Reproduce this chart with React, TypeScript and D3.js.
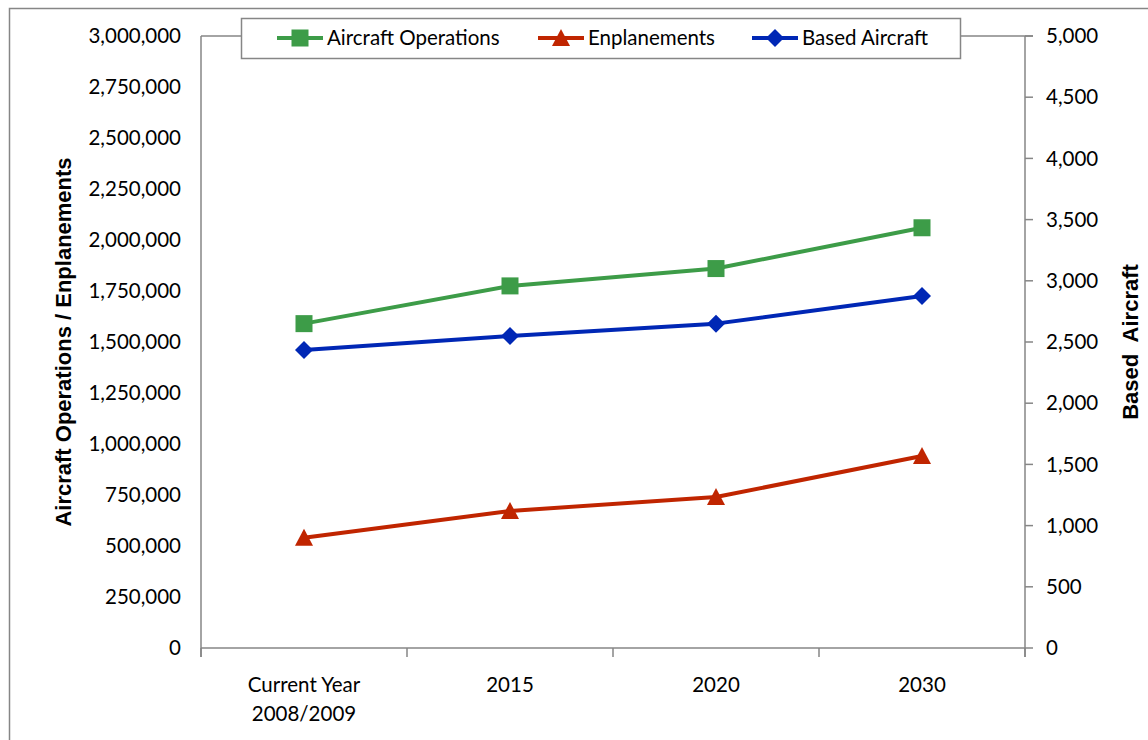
import React, { useEffect, useRef } from "react";
import * as d3 from "d3";

const categories = ["Current Year\n2008/2009", "2015", "2020", "2030"];
const aircraftOperations = [1590000, 1775000, 1860000, 2060000];
const enplanements = [540000, 672000, 740000, 941000];
const basedAircraft = [2435, 2550, 2650, 2875];
const leftTicks = d3.range(0, 3000001, 250000);
const rightTicks = d3.range(0, 5001, 500);

const W = 1148;
const H = 740;
const M = { left: 201, right: 1025, top: 36, bottom: 648 };
const GREEN = "#3d9c48";
const RED = "#c02500";
const BLUE = "#0027b5";
const AXIS = "#868686";
const TICKFONT = "Lato, 'Open Sans', sans-serif";
const BOLDFONT = "'Liberation Sans', Arial, sans-serif";
const FS = 20.5;

export default function App() {
  const ref = useRef<SVGSVGElement>(null);

  useEffect(() => {
    const svg = d3.select(ref.current);
    svg.selectAll("*").remove();

    const x = d3.scaleBand().domain(categories).range([M.left, M.right]).padding(0);
    const yL = d3.scaleLinear().domain([0, 3000000]).range([M.bottom, M.top]);
    const yR = d3.scaleLinear().domain([0, 5000]).range([M.bottom, M.top]);
    const cx = (c: string) => (x(c) as number) + x.bandwidth() / 2;

    svg.append("rect").attr("width", W).attr("height", H).attr("fill", "#fff");

    // outer border
    svg.append("rect").attr("x", 9.5).attr("y", 8.5).attr("width", W + 20).attr("height", H + 20)
      .attr("fill", "none").attr("stroke", AXIS).attr("stroke-width", 1.5);

    const g = svg.append("g");
    // plot frame lines
    g.append("line").attr("x1", M.left).attr("x2", M.right + 8).attr("y1", M.top).attr("y2", M.top)
      .attr("stroke", AXIS).attr("stroke-width", 1.5);
    g.append("line").attr("x1", M.left).attr("x2", M.left).attr("y1", M.top).attr("y2", M.bottom + 9)
      .attr("stroke", AXIS).attr("stroke-width", 1.5);
    g.append("line").attr("x1", M.right).attr("x2", M.right).attr("y1", M.top).attr("y2", M.bottom + 9)
      .attr("stroke", AXIS).attr("stroke-width", 1.5);
    g.append("line").attr("x1", M.left).attr("x2", M.right).attr("y1", M.bottom).attr("y2", M.bottom)
      .attr("stroke", AXIS).attr("stroke-width", 1.5);

    // x ticks at band edges
    const edges = categories.map((c) => x(c) as number).concat([M.right]);
    g.selectAll(".xt").data(edges).enter().append("line")
      .attr("x1", (d) => d).attr("x2", (d) => d).attr("y1", M.bottom).attr("y2", M.bottom + 9)
      .attr("stroke", AXIS).attr("stroke-width", 1.5);

    // right ticks
    g.selectAll(".rt").data(rightTicks).enter().append("line")
      .attr("x1", M.right).attr("x2", M.right + 8).attr("y1", (d) => yR(d)).attr("y2", (d) => yR(d))
      .attr("stroke", AXIS).attr("stroke-width", 1.5);

    const fmt = d3.format(",");
    g.selectAll(".lt").data(leftTicks).enter().append("text")
      .attr("x", 181).attr("y", (d) => yL(d)).attr("dy", "0.35em").attr("text-anchor", "end")
      .attr("font-family", TICKFONT).attr("font-size", FS).attr("fill", "#000").text((d) => fmt(d));
    g.selectAll(".rtl").data(rightTicks).enter().append("text")
      .attr("x", 1046).attr("y", (d) => yR(d)).attr("dy", "0.35em").attr("text-anchor", "start")
      .attr("font-family", TICKFONT).attr("font-size", FS).attr("fill", "#000").text((d) => fmt(d));

    // x labels
    categories.forEach((c) => {
      const lines = c.split("\n");
      const t = g.append("text").attr("text-anchor", "middle").attr("font-family", TICKFONT)
        .attr("font-size", FS).attr("fill", "#000");
      lines.forEach((ln, i) => {
        t.append("tspan").attr("x", cx(c)).attr("y", 692 + i * 29).text(ln);
      });
    });

    // axis titles
    svg.append("text").attr("transform", `translate(71,${(M.top + M.bottom) / 2}) rotate(-90)`)
      .attr("text-anchor", "middle").attr("font-family", BOLDFONT).attr("font-weight", "bold")
      .attr("font-size", 22).text("Aircraft Operations / Enplanements");
    svg.append("text").attr("transform", `translate(1138,${(M.top + M.bottom) / 2}) rotate(-90)`)
      .attr("text-anchor", "middle").attr("font-family", BOLDFONT).attr("font-weight", "bold")
      .attr("font-size", 22).attr("xml:space", "preserve").text("Based  Aircraft");

    const series = [
      { name: "Aircraft Operations", values: aircraftOperations, y: yL, color: GREEN, shape: "square" },
      { name: "Enplanements", values: enplanements, y: yL, color: RED, shape: "triangle" },
      { name: "Based Aircraft", values: basedAircraft, y: yR, color: BLUE, shape: "diamond" },
    ];

    const marker = (sel: any, shape: string, color: string, px: number, py: number) => {
      if (shape === "square") {
        sel.append("rect").attr("x", px - 8.5).attr("y", py - 8.5).attr("width", 17).attr("height", 17).attr("fill", color);
      } else if (shape === "triangle") {
        sel.append("path").attr("d", `M${px},${py - 9}L${px + 9},${py + 8}L${px - 9},${py + 8}Z`).attr("fill", color);
      } else {
        sel.append("path").attr("d", `M${px},${py - 9}L${px + 9},${py}L${px},${py + 9}L${px - 9},${py}Z`).attr("fill", color);
      }
    };

    series.forEach((s) => {
      const line = d3.line<number>().x((_, i) => cx(categories[i])).y((d) => s.y(d));
      g.append("path").attr("d", line(s.values)).attr("fill", "none").attr("stroke", s.color)
        .attr("stroke-width", 4).attr("stroke-linejoin", "round");
      s.values.forEach((v, i) => marker(g, s.shape, s.color, cx(categories[i]), s.y(v)));
    });

    // legend
    const lg = svg.append("g");
    lg.append("rect").attr("x", 241.5).attr("y", 18.5).attr("width", 719).attr("height", 40)
      .attr("fill", "#fff").attr("stroke", AXIS).attr("stroke-width", 1.5);
    const lx = [277, 538, 752];
    series.forEach((s, i) => {
      const ly = 38;
      lg.append("line").attr("x1", lx[i]).attr("x2", lx[i] + 46).attr("y1", ly).attr("y2", ly)
        .attr("stroke", s.color).attr("stroke-width", 4);
      marker(lg, s.shape, s.color, lx[i] + 23, ly);
      lg.append("text").attr("x", lx[i] + 50).attr("y", ly).attr("dy", "0.35em")
        .attr("font-family", TICKFONT).attr("font-size", FS).attr("fill", "#000").text(s.name);
    });
  }, []);

  return (
    <svg ref={ref} width={W} height={H} style={{ position: "absolute", left: 0, top: 0, display: "block" }} />
  );
}
